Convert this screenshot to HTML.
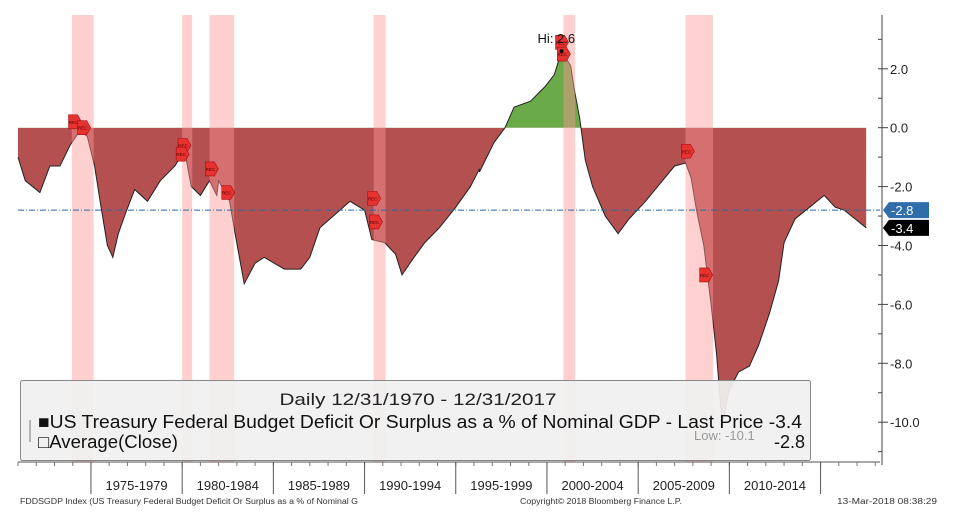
<!DOCTYPE html>
<html><head><meta charset="utf-8">
<style>
html,body{margin:0;padding:0;background:#fff;width:969px;height:525px;overflow:hidden;font-family:"Liberation Sans",sans-serif;}
</style></head>
<body>
<svg id="chart" width="969" height="525" xmlns="http://www.w3.org/2000/svg"></svg>
<script>
const years=[1971.0,1971.4,1972.2,1972.75,1973.3,1973.85,1974.4,1974.8,1975.2,1975.5,1975.9,1976.2,1976.5,1976.9,1977.4,1978.1,1978.8,1979.6,1979.9,1980.2,1980.5,1981.0,1981.5,1981.9,1982.0,1982.6,1982.9,1983.4,1984.0,1984.5,1985.6,1986.5,1987.0,1987.55,1988.1,1988.65,1989.2,1990.0,1990.4,1991.1,1991.7,1992.05,1992.6,1993.3,1994.1,1995.0,1995.8,1996.3,1996.3,1997.1,1997.7,1998.2,1999.1,1999.9,2000.4,2000.8,2001.3,2001.5,2001.8,2002.1,2002.5,2003.2,2003.9,2004.5,2005.4,2006.2,2007.0,2007.6,2007.9,2008.2,2008.6,2009.0,2009.3,2009.6,2010.0,2010.5,2011.1,2011.6,2012.2,2012.7,2013.0,2013.6,2014.4,2015.2,2015.8,2016.3,2016.9,2017.5];
const values=[-1.0,-1.8,-2.2,-1.3,-1.3,-0.6,-0.1,-0.3,-1.3,-2.5,-4.0,-4.4,-3.6,-2.9,-2.1,-2.5,-1.8,-1.3,-1.0,-1.0,-2.0,-2.3,-1.8,-2.3,-1.8,-2.5,-3.6,-5.3,-4.6,-4.4,-4.8,-4.8,-4.4,-3.4,-3.1,-2.8,-2.5,-2.8,-3.8,-3.9,-4.3,-5.0,-4.5,-3.9,-3.4,-2.7,-2.0,-1.4,-1.5,-0.5,0.0,0.7,0.9,1.4,1.8,2.6,2.1,1.3,0.3,-1.1,-2.0,-3.0,-3.6,-3.1,-2.5,-1.9,-1.3,-1.2,-1.7,-2.8,-4.0,-6.0,-7.7,-10.1,-8.9,-8.3,-8.1,-7.4,-6.3,-5.2,-3.9,-3.1,-2.7,-2.3,-2.7,-2.8,-3.1,-3.4];
const recStart=[1973.95,1980.0,1981.5,1990.5,2000.9,2007.6];
const recEnd=[1975.15,1980.55,1982.85,1991.15,2001.55,2009.1];
const yTicks=[2,0,-2,-4,-6,-8,-10];
const periodLabels=["1975-1979","1980-1984","1985-1989","1990-1994","1995-1999","2000-2004","2005-2009","2010-2014"];
const periodStarts=[1975,1980,1985,1990,1995,2000,2005,2010,2015];
const average=-2.8, lastPrice=-3.4, hiVal=2.6, lowVal=-10.1;

const NS="http://www.w3.org/2000/svg";
const svg=document.getElementById('chart');
const X=t=>18+(t-1971)*18.24;
const Y=v=>127.7-v*29.45;
function mk(tag,attrs,parent){const e=document.createElementNS(NS,tag);for(const k in attrs)e.setAttribute(k,attrs[k]);(parent||svg).appendChild(e);return e;}

const defs=mk('defs',{});
const cpR=mk('clipPath',{id:'neg'},defs);mk('rect',{x:0,y:Y(0),width:969,height:500},cpR);
const cpG=mk('clipPath',{id:'pos'},defs);mk('rect',{x:0,y:0,width:969,height:Y(0)},cpG);

let pts=years.map((t,i)=>X(t).toFixed(1)+','+Y(values[i]).toFixed(1));
const area='M'+X(years[0])+','+Y(0)+' L'+pts.join(' L')+' L'+X(years[years.length-1])+','+Y(0)+' Z';
const negArea=mk('path',{d:area,fill:'#b45150','clip-path':'url(#neg)'});


const posArea=mk('path',{d:area,fill:'#6aaa48','clip-path':'url(#pos)'});


const line=mk('polyline',{points:pts.join(' '),fill:'none',stroke:'#222','stroke-width':1});



recStart.forEach((s,i)=>{
  const r=mk('rect',{x:X(s),y:15,width:X(recEnd[i])-X(s),height:447,fill:'rgba(255,150,150,0.45)'});
  
  
});
const flagYears=[1974.1,1974.6,1980.1,1980.0,1981.6,1982.5,1990.5,1990.6,2000.8,2000.9,2007.7,2008.7];
const flagVals=[0.2,0,-0.6,-0.9,-1.4,-2.2,-2.4,-3.2,2.9,2.5,-0.8,-5.0];
flagYears.forEach((t,i)=>{
  const x=X(t),y=Y(flagVals[i]);
  const g=mk('g',{});
  
  
  mk('path',{d:`M${x-6},${y-7} h9 l4,7 l-4,7 h-9 z`,fill:'#e8322f',stroke:'#a01010','stroke-width':0.6},g);
  mk('text',{x:x-1,y:y+2,'font-size':4.5,'text-anchor':'middle',fill:'#500'},g).textContent='REC';
});

const avg=mk('line',{x1:18,x2:880,y1:Y(average),y2:Y(average),stroke:'#2a6aa0','stroke-width':1,'stroke-dasharray':'6,2,1,2'});



const hiIdx=values.indexOf(hiVal);
mk('circle',{cx:X(years[hiIdx]),cy:Y(hiVal),r:2,fill:'#111'});
const hi=mk('text',{x:X(years[hiIdx])-24,y:Y(hiVal)-8,'font-size':13,fill:'#111'});
hi.textContent='Hi: '+hiVal;



mk('line',{x1:882,x2:882,y1:15,y2:465,stroke:'#444','stroke-width':1});
for(let v=3;v>=-11;v--){mk('line',{x1:878,x2:882,y1:Y(v),y2:Y(v),stroke:'#444'});}
yTicks.forEach(v=>{
  mk('line',{x1:882,x2:888,y1:Y(v),y2:Y(v),stroke:'#444'});
  const t=mk('text',{x:890,y:Y(v)+5,'font-size':13,fill:'#222'});
  t.textContent=v.toFixed(1);
  
  
});
function tag(v,color,name){
  const y=Y(v);const g=mk('g',{});
  
  
  mk('path',{d:`M883,${y} l6,-8 h40 v16 h-40 z`,fill:color},g);
  mk('text',{x:891,y:y+5,'font-size':13,fill:'#fff'},g).textContent=v.toFixed(1);
}
tag(average,'#2f6eab','average-tag');
tag(lastPrice,'#000','last-price-tag');

mk('line',{x1:18,x2:880,y1:462,y2:462,stroke:'#555'});
for(let t=1971;t<=2018;t++){mk('line',{x1:X(t),x2:X(t),y1:462,y2:466,stroke:'#777'});}
periodStarts.forEach(t=>{mk('line',{x1:X(t),x2:X(t),y1:462,y2:494,stroke:'#555'});});
periodLabels.forEach((l,i)=>{
  const t=mk('text',{x:(X(periodStarts[i])+X(periodStarts[i+1]))/2,y:490,'font-size':13,'text-anchor':'middle',fill:'#222'});
  t.textContent=l;
  
  
});

const lg=mk('g',{});


mk('rect',{x:20.5,y:380.5,width:790,height:80,rx:2,fill:'rgba(240,240,240,0.93)',stroke:'#888'},lg);
mk('text',{x:418,y:405,'font-size':17,'text-anchor':'middle',fill:'#222',textLength:277,lengthAdjust:'spacingAndGlyphs'},lg).textContent='Daily 12/31/1970 - 12/31/2017';
const l1=mk('text',{x:38,y:428,'font-size':18,fill:'#111',textLength:764,lengthAdjust:'spacingAndGlyphs'},lg);
l1.textContent='■US Treasury Federal Budget Deficit Or Surplus as a % of Nominal GDP - Last Price -3.4';

const l2=mk('text',{x:38,y:448,'font-size':18,fill:'#111',textLength:140,lengthAdjust:'spacingAndGlyphs'},lg);
l2.textContent='□Average(Close)';

mk('line',{x1:30,x2:30,y1:420,y2:442,stroke:'#777'},lg);
mk('text',{x:694,y:440,'font-size':13,fill:'#999'},lg).textContent='Low: '+lowVal;
mk('text',{x:774,y:448,'font-size':18,fill:'#111'},lg).textContent=average.toFixed(1);

const f1=mk('text',{x:20,y:504,'font-size':8,fill:'#333',textLength:338,lengthAdjust:'spacingAndGlyphs'});
f1.textContent='FDDSGDP Index (US Treasury Federal Budget Deficit Or Surplus as a % of Nominal G';


const f2=mk('text',{x:520,y:504,'font-size':8,fill:'#333',textLength:162,lengthAdjust:'spacingAndGlyphs'});
f2.textContent='Copyright© 2018 Bloomberg Finance L.P.';


const f3=mk('text',{x:837,y:504,'font-size':8,fill:'#333',textLength:100,lengthAdjust:'spacingAndGlyphs'});
f3.textContent='13-Mar-2018 08:38:29';


</script>
</body></html>
